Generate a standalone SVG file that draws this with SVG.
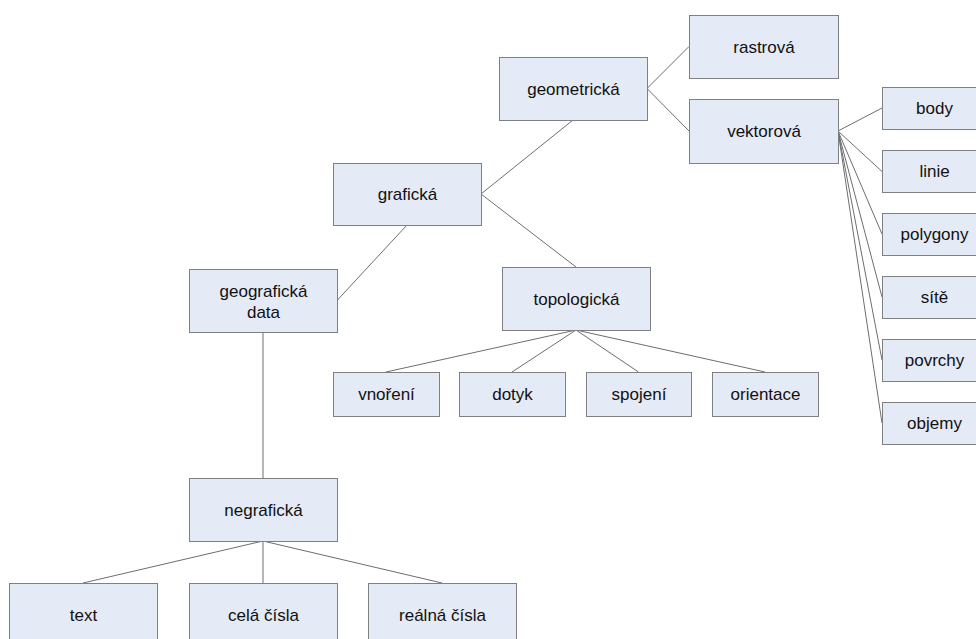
<svg xmlns="http://www.w3.org/2000/svg" width="976" height="639" viewBox="0 0 976 639">
<style>
.box{fill:#e5ebf6;stroke:#808080;stroke-width:1}
.lbl{font-family:"Liberation Sans",Arial,sans-serif;font-size:17px;fill:#111;text-anchor:middle}
#connectors line{stroke:#6e6e6e;stroke-width:1}
</style>
<rect width="976" height="639" fill="#fff"/>
<g id="connectors">
<line x1="647" y1="88.5" x2="689" y2="46.5"/>
<line x1="647" y1="88.5" x2="689" y2="131"/>
<line x1="573" y1="120" x2="481" y2="194"/>
<line x1="481" y1="194" x2="576" y2="267"/>
<line x1="407" y1="225" x2="337" y2="300.5"/>
<line x1="263" y1="332" x2="263" y2="478"/>
<line x1="576" y1="330" x2="386" y2="372"/>
<line x1="576" y1="330" x2="512" y2="372"/>
<line x1="576" y1="330" x2="638.5" y2="372"/>
<line x1="576" y1="330" x2="765" y2="372"/>
<line x1="263" y1="541" x2="83" y2="583"/>
<line x1="263" y1="541" x2="263" y2="583"/>
<line x1="263" y1="541" x2="442" y2="583"/>
<line x1="838" y1="131" x2="882" y2="108"/>
<line x1="838" y1="131" x2="882" y2="171.5"/>
<line x1="838" y1="131" x2="882" y2="234"/>
<line x1="838" y1="131" x2="882" y2="297"/>
<line x1="838" y1="131" x2="882" y2="360"/>
<line x1="838" y1="131" x2="882" y2="423"/>
</g>
<g id="rastrova"><rect class="box" x="689.5" y="15.5" width="149" height="63"/><text class="lbl" x="764" y="53">rastrová</text></g>
<g id="geometricka"><rect class="box" x="499.5" y="57.5" width="148" height="63"/><text class="lbl" x="573.5" y="95">geometrická</text></g>
<g id="vektorova"><rect class="box" x="689.5" y="99.5" width="149" height="64"/><text class="lbl" x="764" y="137">vektorová</text></g>
<g id="graficka"><rect class="box" x="333.5" y="163.5" width="148" height="62"/><text class="lbl" x="407.5" y="200">grafická</text></g>
<g id="topologicka"><rect class="box" x="502.5" y="267.5" width="148" height="63"/><text class="lbl" x="576.5" y="305">topologická</text></g>
<g id="geograficka-data"><rect class="box" x="189.5" y="269.5" width="148" height="63"/><text class="lbl" x="263.5" y="297">geografická</text><text class="lbl" x="263.5" y="318">data</text></g>
<g id="vnoreni"><rect class="box" x="333.5" y="372.5" width="106" height="44"/><text class="lbl" x="386.5" y="400">vnoření</text></g>
<g id="dotyk"><rect class="box" x="459.5" y="372.5" width="106" height="44"/><text class="lbl" x="512.5" y="400">dotyk</text></g>
<g id="spojeni"><rect class="box" x="586.5" y="372.5" width="105" height="44"/><text class="lbl" x="639" y="400">spojení</text></g>
<g id="orientace"><rect class="box" x="712.5" y="372.5" width="106" height="44"/><text class="lbl" x="765.5" y="400">orientace</text></g>
<g id="negraficka"><rect class="box" x="189.5" y="478.5" width="148" height="63"/><text class="lbl" x="263.5" y="516">negrafická</text></g>
<g id="text"><rect class="box" x="9.5" y="583.5" width="148" height="70"/><text class="lbl" x="83.5" y="621">text</text></g>
<g id="cela-cisla"><rect class="box" x="189.5" y="583.5" width="148" height="70"/><text class="lbl" x="263.5" y="621">celá čísla</text></g>
<g id="realna-cisla"><rect class="box" x="368.5" y="583.5" width="148" height="70"/><text class="lbl" x="442.5" y="621">reálná čísla</text></g>
<g id="body"><rect class="box" x="882.5" y="87.5" width="104" height="42"/><text class="lbl" x="934.5" y="114">body</text></g>
<g id="linie"><rect class="box" x="882.5" y="150.5" width="104" height="42"/><text class="lbl" x="934.5" y="177">linie</text></g>
<g id="polygony"><rect class="box" x="882.5" y="213.5" width="104" height="42"/><text class="lbl" x="934.5" y="240">polygony</text></g>
<g id="site"><rect class="box" x="882.5" y="276.5" width="104" height="42"/><text class="lbl" x="934.5" y="303">sítě</text></g>
<g id="povrchy"><rect class="box" x="882.5" y="339.5" width="104" height="42"/><text class="lbl" x="934.5" y="366">povrchy</text></g>
<g id="objemy"><rect class="box" x="882.5" y="402.5" width="104" height="42"/><text class="lbl" x="934.5" y="429">objemy</text></g>
</svg>
